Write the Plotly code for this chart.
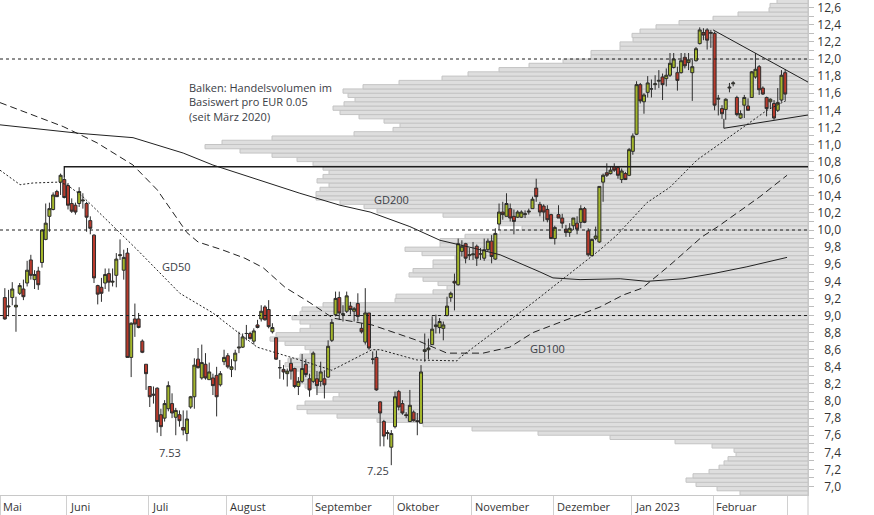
import plotly.graph_objects as go
import pandas as pd

# ---------------- data ----------------
# trading days (Xetra, 2022-12-26 closed)
dates = [d for d in pd.bdate_range("2022-05-09", "2023-02-28") if d != pd.Timestamp("2022-12-26")]

open_ = [9.21, 9.10, 9.21, 9.10, 9.26, 9.31, 9.38, 9.65, 9.42, 9.52,
         9.62, 9.89, 10.16, 10.24, 10.45, 10.56, 10.59, 10.52, 10.31, 10.29,
         10.31, 10.34, 10.31, 10.11, 9.94, 9.35, 9.33, 9.38, 9.49, 9.39,
         9.47, 9.70, 9.53, 9.73, 8.51, 8.96, 8.96, 8.70, 8.43, 8.17,
         8.08, 8.15, 7.84, 7.80, 7.91, 7.97, 7.81, 7.84, 7.69, 7.62,
         7.93, 8.05, 8.49, 8.27, 8.43, 8.25, 8.27, 8.30, 8.19, 8.46,
         8.53, 8.37, 8.47, 8.62, 8.63, 8.79, 8.79, 8.70, 8.89, 8.96,
         9.10, 9.07, 8.81, 8.74, 8.39, 8.37, 8.32, 8.44, 8.38, 8.17,
         8.23, 8.43, 8.26, 8.23, 8.26, 8.23, 8.26, 8.28, 8.71, 9.01,
         9.21, 9.01, 9.05, 9.11, 9.05, 9.14, 8.85, 8.69, 9.03, 8.49,
         8.51, 7.99, 7.76, 7.62, 7.46, 7.70, 8.11, 7.97, 7.84, 7.76,
         7.87, 7.77, 7.74, 8.58, 8.60, 8.66, 8.87, 8.86, 8.85, 9.00,
         9.21, 9.40, 9.36, 9.75, 9.84, 9.70, 9.71, 9.81, 9.72, 9.67,
         9.77, 9.87, 9.66, 10.07, 10.21, 10.16, 10.25, 10.16, 10.15, 10.15,
         10.18, 10.21, 10.25, 10.49, 10.30, 10.28, 10.24, 10.18, 9.90, 10.18,
         10.14, 10.01, 9.97, 10.05, 10.08, 10.09, 10.25, 9.99, 9.70, 9.90,
         9.86, 10.56, 10.67, 10.66, 10.74, 10.73, 10.59, 10.66, 10.64, 10.92,
         11.12, 11.70, 11.50, 11.61, 11.65, 11.70, 11.74, 11.79, 11.77, 11.81,
         11.90, 11.84, 11.84, 12.02, 11.96, 11.84, 11.98, 12.18, 12.31, 12.34,
         12.30, 12.30, 11.53, 11.42, 11.41, 11.66, 11.71, 11.55, 11.31, 11.46,
         11.45, 11.55, 11.79, 11.91, 11.66, 11.55, 11.50, 11.48, 11.40, 11.52, 11.84]

high = [9.32, 9.30, 9.39, 9.22, 9.38, 9.42, 9.64, 9.71, 9.53, 9.57,
        10.01, 10.31, 10.32, 10.44, 10.47, 10.66, 10.61, 10.55, 10.37, 10.32,
        10.50, 10.43, 10.33, 10.16, 9.95, 9.36, 9.44, 9.55, 9.55, 9.55,
        9.73, 9.89, 9.77, 9.79, 8.92, 9.14, 9.03, 8.72, 8.43, 8.17,
        8.17, 8.16, 7.91, 8.01, 8.23, 8.09, 7.92, 7.89, 7.89, 7.89,
        8.06, 8.50, 8.62, 8.66, 8.56, 8.45, 8.32, 8.40, 8.35, 8.60,
        8.56, 8.49, 8.60, 8.81, 8.79, 8.89, 8.81, 8.85, 8.95, 9.12,
        9.12, 9.18, 8.91, 8.74, 8.48, 8.42, 8.38, 8.50, 8.39, 8.28,
        8.55, 8.49, 8.32, 8.58, 8.35, 8.46, 8.36, 8.71, 8.96, 9.28,
        9.28, 9.12, 9.28, 9.16, 9.10, 9.26, 8.91, 9.32, 9.03, 8.58,
        8.59, 8.00, 7.78, 7.66, 7.66, 8.11, 8.13, 8.01, 7.87, 8.13,
        7.89, 7.86, 8.42, 8.79, 8.73, 8.99, 9.01, 8.97, 8.93, 9.22,
        9.28, 9.49, 9.90, 9.88, 9.85, 9.79, 9.86, 9.83, 9.79, 9.90,
        9.90, 9.94, 10.02, 10.31, 10.33, 10.43, 10.31, 10.24, 10.23, 10.23,
        10.23, 10.25, 10.39, 10.60, 10.33, 10.30, 10.29, 10.19, 10.05, 10.29,
        10.19, 10.06, 10.08, 10.14, 10.16, 10.29, 10.27, 10.02, 9.90, 10.04,
        10.51, 10.66, 10.78, 10.74, 10.78, 10.74, 10.72, 10.68, 10.96, 11.13,
        11.74, 11.72, 11.60, 11.80, 11.76, 11.81, 11.87, 11.83, 11.89, 12.07,
        12.07, 11.91, 12.07, 12.07, 12.07, 11.99, 12.14, 12.37, 12.36, 12.36,
        12.34, 12.32, 11.58, 11.46, 11.54, 11.72, 11.74, 11.57, 11.40, 11.58,
        11.54, 11.86, 12.07, 11.93, 11.68, 11.56, 11.54, 11.52, 11.66, 11.87, 11.88]

low = [8.95, 8.99, 9.12, 8.81, 9.24, 9.18, 9.34, 9.42, 9.31, 9.30,
       9.56, 9.88, 9.98, 10.23, 10.39, 10.41, 10.37, 10.24, 10.20, 10.18,
       10.27, 10.25, 9.98, 9.95, 9.38, 9.13, 9.16, 9.31, 9.28, 9.34,
       9.33, 9.65, 9.42, 8.51, 8.28, 8.75, 8.85, 8.56, 8.13, 7.93,
       7.97, 7.63, 7.59, 7.76, 7.88, 7.80, 7.60, 7.70, 7.60, 7.53,
       7.91, 7.91, 8.38, 8.25, 8.25, 8.25, 8.07, 7.82, 8.17, 8.42,
       8.38, 8.28, 8.36, 8.56, 8.62, 8.71, 8.72, 8.66, 8.85, 8.93,
       8.94, 8.85, 8.79, 8.48, 8.26, 8.25, 8.17, 8.25, 8.15, 8.07,
       8.21, 8.28, 8.05, 8.21, 8.07, 8.17, 8.03, 8.27, 8.69, 8.99,
       8.95, 8.93, 9.03, 9.01, 8.93, 8.93, 8.79, 8.66, 8.60, 8.43,
       8.12, 7.47, 7.47, 7.55, 7.25, 7.68, 7.89, 7.84, 7.80, 7.76,
       7.76, 7.60, 7.74, 8.46, 8.49, 8.66, 8.79, 8.79, 8.71, 8.99,
       9.16, 9.06, 9.35, 9.69, 9.61, 9.65, 9.65, 9.58, 9.65, 9.64,
       9.75, 9.61, 9.65, 10.00, 10.12, 10.16, 10.10, 9.95, 10.14, 10.14,
       10.14, 10.18, 10.25, 10.33, 10.16, 10.10, 10.09, 9.90, 9.83, 10.14,
       10.02, 9.92, 9.92, 10.00, 9.95, 10.02, 10.08, 9.69, 9.69, 9.88,
       9.85, 10.33, 10.62, 10.65, 10.68, 10.60, 10.55, 10.59, 10.63, 10.88,
       11.11, 11.48, 11.36, 11.55, 11.55, 11.64, 11.66, 11.52, 11.68, 11.79,
       11.89, 11.63, 11.83, 11.89, 11.87, 11.51, 11.97, 12.17, 12.22, 12.11,
       12.13, 11.40, 11.34, 11.30, 11.29, 11.61, 11.68, 11.33, 11.30, 11.31,
       11.40, 11.55, 11.77, 11.58, 11.58, 11.33, 11.42, 11.29, 11.38, 11.50, 11.52]

close = [8.96, 9.11, 9.31, 9.12, 9.35, 9.22, 9.53, 9.47, 9.48, 9.36,
         10.00, 10.08, 10.25, 10.41, 10.39, 10.64, 10.38, 10.29, 10.22, 10.21,
         10.45, 10.35, 10.15, 10.02, 9.44, 9.25, 9.26, 9.48, 9.39, 9.40,
         9.66, 9.71, 9.68, 8.51, 8.91, 8.90, 8.86, 8.57, 8.32, 8.05,
         8.07, 7.76, 7.70, 7.97, 8.18, 7.86, 7.89, 7.77, 7.66, 7.79,
         8.05, 8.42, 8.39, 8.45, 8.27, 8.34, 8.18, 8.05, 8.32, 8.51,
         8.40, 8.40, 8.56, 8.63, 8.75, 8.79, 8.73, 8.82, 8.86, 9.05,
         8.95, 8.87, 8.86, 8.49, 8.39, 8.34, 8.35, 8.35, 8.17, 8.23,
         8.38, 8.31, 8.13, 8.56, 8.18, 8.34, 8.19, 8.64, 8.92, 9.20,
         9.03, 9.02, 9.23, 9.07, 9.08, 8.99, 8.81, 9.03, 8.62, 8.49,
         8.13, 7.86, 7.59, 7.63, 7.62, 8.05, 7.93, 7.86, 7.83, 7.95,
         7.77, 7.76, 8.34, 8.60, 8.62, 8.84, 8.89, 8.93, 8.89, 9.11,
         9.26, 9.38, 9.84, 9.81, 9.67, 9.71, 9.72, 9.67, 9.72, 9.77,
         9.87, 9.69, 9.96, 10.21, 10.18, 10.31, 10.14, 10.10, 10.21, 10.21,
         10.19, 10.22, 10.36, 10.39, 10.21, 10.21, 10.12, 9.90, 10.03, 10.14,
         10.08, 9.97, 10.02, 10.14, 10.01, 10.25, 10.09, 9.71, 9.89, 9.93,
         10.51, 10.64, 10.64, 10.70, 10.70, 10.64, 10.69, 10.59, 10.94, 11.10,
         11.70, 11.51, 11.58, 11.72, 11.65, 11.71, 11.75, 11.70, 11.81, 11.95,
         12.00, 11.75, 11.98, 11.92, 11.99, 11.91, 12.12, 12.34, 12.28, 12.22,
         12.31, 11.46, 11.54, 11.36, 11.53, 11.67, 11.72, 11.35, 11.36, 11.55,
         11.40, 11.85, 11.88, 11.64, 11.59, 11.42, 11.53, 11.31, 11.49, 11.81, 11.59]

# moving averages (trading-day index, price)
gd50_x = [-1.3, 4.1, 7.6, 14.3, 16.7, 21.0, 35.6, 47.1, 56.0, 67.9, 79.4, 88.0, 98.8, 101.0,
          110.9, 121.7, 122.5, 142.1, 160.2, 164.7, 172.8, 179.0, 186.3, 195.2, 205.1, 210.5]
gd50_y = [10.70, 10.53, 10.55, 10.56, 10.53, 10.39, 9.77, 9.26, 9.03, 8.63, 8.48, 8.36, 8.60, 8.60,
          8.48, 8.47, 8.51, 9.15, 9.77, 9.94, 10.32, 10.50, 10.82, 11.09, 11.40, 11.52]
gd100_x = [-1.3, 15.7, 24.8, 34.5, 41.0, 49.0, 52.0, 58.4, 64.6, 69.5, 75.4, 82.1, 88.3, 98.8,
           110.9, 119.0, 128.7, 135.9, 142.1, 160.2, 166.4, 171.5, 179.0, 183.6, 187.6, 191.9,
           197.0, 203.2, 210.5]
gd100_y = [11.49, 11.21, 11.02, 10.76, 10.47, 9.97, 9.86, 9.77, 9.67, 9.56, 9.33, 9.15, 8.97, 8.89,
           8.71, 8.56, 8.56, 8.63, 8.80, 9.10, 9.24, 9.32, 9.59, 9.77, 9.92, 10.04,
           10.20, 10.39, 10.64]
gd200_x = [-1.3, 20.2, 34.5, 48.0, 56.0, 79.4, 90.2, 98.3, 109.0, 117.1, 126.0, 133.3, 144.0,
           147.5, 154.8, 165.6, 172.8, 182.5, 190.6, 199.7, 210.5]
gd200_y = [11.23, 11.13, 11.08, 10.90, 10.76, 10.43, 10.29, 10.21, 10.04, 9.88, 9.79, 9.71, 9.51,
           9.44, 9.42, 9.43, 9.40, 9.43, 9.49, 9.57, 9.68]

# volume profile: lower bound of each EUR 0.05 price bucket and relative volume
vol_levels = [round(6.90 + 0.05 * k, 2) for k in range(116)]
vol_values = [68, 91, 112, 122, 115, 99, 89, 84, 80, 72,
              74, 96, 133, 198, 270, 336, 385, 431, 471, 501,
              511, 503, 475, 469, 491, 503, 508, 508, 508, 518,
              523, 520, 508, 498, 503, 523, 538, 532, 508, 498,
              508, 516, 508, 506, 485, 413, 412, 375, 361, 370,
              385, 399, 395, 375, 375, 353, 386, 403, 368, 368,
              343, 308, 286, 308, 308, 365, 431, 444, 468, 492,
              492, 488, 479, 491, 485, 479, 485, 495, 511, 536,
              568, 603, 586, 536, 454, 415, 408, 424, 449, 468,
              475, 464, 453, 460, 465, 445, 409, 366, 340, 309,
              279, 245, 217, 217, 188, 188, 175, 176, 168, 152,
              129, 95, 70, 39, 38, 31]

# month axis
month_labels = ["Mai", "Juni", "Juli", "August", "September", "Oktober", "November",
                "Dezember", "Jan 2023", "Februar", ""]
month_start = [-1, 17, 39, 60, 83, 105, 126, 148, 169, 191, 211]

ref_levels = [12.0, 10.0, 9.0]
resist_level = 10.74
upper_trend = ([190.6, 216.14], [12.34, 11.73])
lower_trend = ([193.5, 193.5, 216.14], [11.30, 11.19, 11.345])

# ---------------- figure ----------------
X_MIN, X_MAX = -1.3, 216.14
Y_MIN, Y_MAX = 6.901, 12.69
W, H = 874, 515
PLOT_W = 808
FONT = "Open Sans, Noto Sans, sans-serif"
TXT = "#3a3d45"

idx = list(range(len(open_)))
fig = go.Figure()

fig.add_trace(go.Bar(
    y=[p + 0.025 for p in vol_levels], x=vol_values, orientation="h", width=0.05,
    marker=dict(color="#dedede", line=dict(color="#c4c4c4", width=1)),
    xaxis="x", yaxis="y", hoverinfo="skip"))

for xs, ys, dash in [(gd200_x, gd200_y, "solid"), (gd100_x, gd100_y, "7px,4px"),
                     (gd50_x, gd50_y, "2px,2px")]:
    fig.add_trace(go.Scatter(x=xs, y=ys, mode="lines", xaxis="x2", yaxis="y",
                             line=dict(color="#222222", width=1, dash=dash), hoverinfo="skip"))

fig.add_trace(go.Candlestick(
    x=idx, open=open_, high=high, low=low, close=close,
    hovertext=[d.strftime("%d.%m.%Y") for d in dates],
    xaxis="x2", yaxis="y", whiskerwidth=0,
    increasing=dict(fillcolor="#a3b62b", line=dict(color="#2d2d2d", width=1)),
    decreasing=dict(fillcolor="#b93a2c", line=dict(color="#2d2d2d", width=1))))

# dummy trace to activate the label axis
fig.add_trace(go.Scatter(x=[None], y=[None], xaxis="x2", yaxis="y2", showlegend=False,
                         hoverinfo="skip"))

shapes = []
for lv in ref_levels:
    shapes.append(dict(type="line", xref="x2 domain", x0=0, x1=1, yref="y", y0=lv, y1=lv,
                       line=dict(color="#1e1e1e", width=1, dash="3px,3px")))
shapes.append(dict(type="path", xref="x2", yref="y",
                   path=f"M {16},{high[16]} L {16},{resist_level} L {X_MAX},{resist_level}",
                   line=dict(color="#1e1e1e", width=1.3)))
shapes.append(dict(type="line", xref="x2", yref="y", x0=upper_trend[0][0], x1=upper_trend[0][1],
                   y0=upper_trend[1][0], y1=upper_trend[1][1], line=dict(color="#1e1e1e", width=1)))
shapes.append(dict(type="path", xref="x2", yref="y",
                   path="M " + " L ".join(f"{a},{b}" for a, b in zip(*lower_trend)),
                   line=dict(color="#1e1e1e", width=1)))
# y-axis line continuing through the date strip
shapes.append(dict(type="line", xref="paper", yref="paper", x0=PLOT_W / W, x1=PLOT_W / W,
                   y0=-20 / 495, y1=0, line=dict(color="#c8c8c8", width=1)))

seps = [m - 0.3 for m in month_start]
annotations = []
for s, lab in zip(seps, month_labels):
    if lab:
        annotations.append(dict(x=s, xref="x2", y=-12 / 495, yref="paper", text=lab,
                                xanchor="left", yanchor="middle", xshift=1, showarrow=False,
                                font=dict(family=FONT, size=11, color="#333333")))

def note(x, y, text, xanchor="left", yanchor="middle", align="left"):
    annotations.append(dict(x=x, y=y, xref="x2", yref="y", text=text, showarrow=False,
                            xanchor=xanchor, yanchor=yanchor, align=align,
                            font=dict(family=FONT, size=11, color=TXT)))

note(49.0, 11.78, "Balken: Handelsvolumen im<br>Basiswert pro EUR 0.05<br>(seit März 2020)",
     yanchor="top")
note(98.8, 10.36, "GD200")
note(41.8, 9.57, "GD50")
note(140.8, 8.61, "GD100")
note(44.45, 7.40, f"{low[49]:.2f}", xanchor="center")
note(100.4, 7.19, f"{low[104]:.2f}", xanchor="center")

fig.update_layout(
    width=W, height=H, margin=dict(l=0, r=0, t=0, b=20, pad=0),
    template="none", paper_bgcolor="white", plot_bgcolor="white",
    showlegend=False, separators=",.", boxgap=0.1, boxgroupgap=0.1,
    font=dict(family=FONT, size=11, color="#333333"),
    xaxis=dict(domain=[0, PLOT_W / W], range=[PLOT_W, 0], visible=False, fixedrange=True,
               automargin=False),
    xaxis2=dict(overlaying="x", anchor="y", side="bottom", range=[X_MIN, X_MAX],
                tickmode="array", tickvals=seps, showticklabels=False, ticks="outside",
                ticklen=20, tickwidth=1, tickcolor="#d0d0d0", showline=True,
                linecolor="#c8c8c8", linewidth=1, showgrid=False, zeroline=False,
                rangeslider=dict(visible=False), automargin=False),
    yaxis=dict(anchor="x", side="right", range=[Y_MIN, Y_MAX], tick0=0, dtick=0.1,
               ticks="outside", ticklen=5, tickcolor="#bdbdbd", showticklabels=False,
               showline=True, linecolor="#c8c8c8", showgrid=False, zeroline=False,
               automargin=False),
    yaxis2=dict(overlaying="y", anchor="free", side="left", position=841 / W,
                range=[Y_MIN, Y_MAX], tick0=0, dtick=0.2, tickformat=".1f", ticks="",
                showline=False, showgrid=False, zeroline=False, automargin=False,
                ticklabeloverflow="allow",
                tickfont=dict(family=FONT, size=12, color="#333333")),
    shapes=shapes, annotations=annotations,
)

fig.write_html("out.html", config={"displayModeBar": False},
               post_script="document.body.style.margin='0px';document.body.style.padding='0px';")
